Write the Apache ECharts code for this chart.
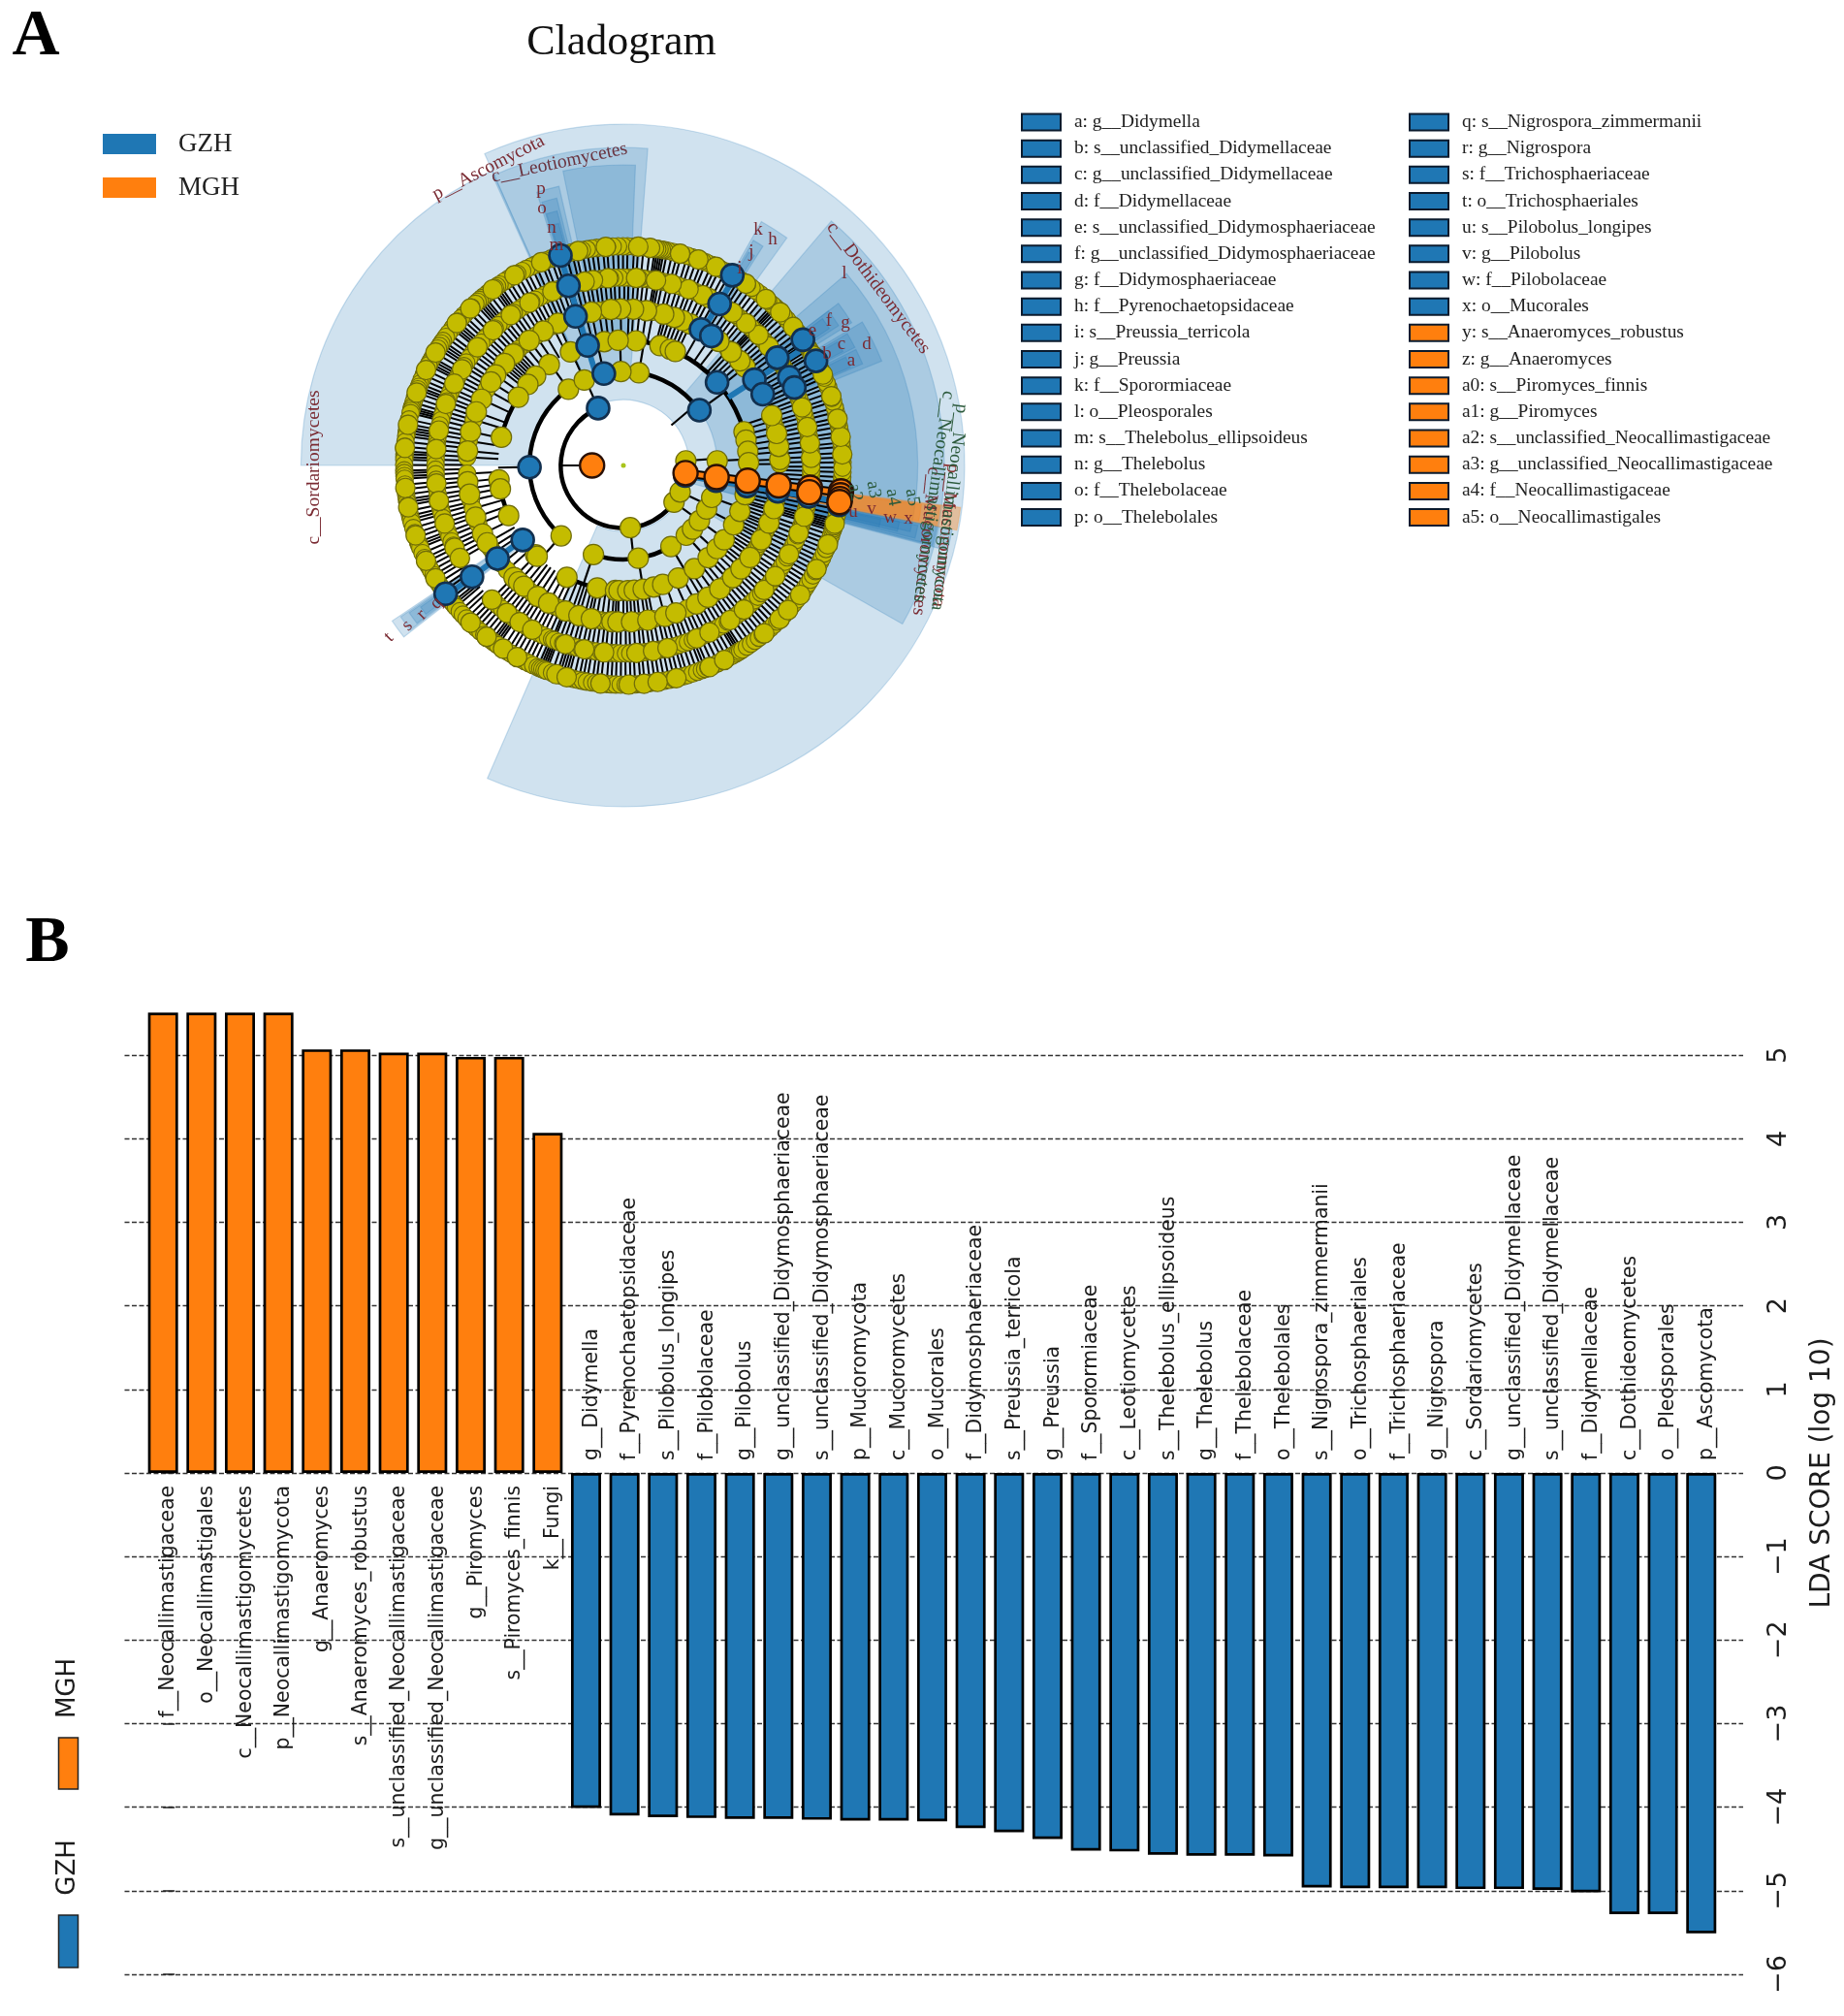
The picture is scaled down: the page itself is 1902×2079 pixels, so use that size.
<!DOCTYPE html>
<html><head><meta charset="utf-8">
<style>html,body{margin:0;padding:0;background:#fff}#c{width:1902px;height:2079px}</style>
<script src="https://cdn.jsdelivr.net/npm/echarts@6/dist/echarts.min.js"></script>
</head><body><div id="c"></div>
<script>
// ---------- panel B data ----------
const mghTaxa=["f__Neocallimastigaceae","o__Neocallimastigales","c__Neocallimastigomycetes","p__Neocallimastigomycota","g__Anaeromyces","s__Anaeromyces_robustus","s__unclassified_Neocallimastigaceae","g__unclassified_Neocallimastigaceae","g__Piromyces","s__Piromyces_finnis","k__Fungi"];
const mghScores=[5.51,5.51,5.51,5.51,5.07,5.07,5.03,5.03,4.98,4.98,4.07];
const gzhTaxa=["g__Didymella","f__Pyrenochaetopsidaceae","s__Pilobolus_longipes","f__Pilobolaceae","g__Pilobolus","g__unclassified_Didymosphaeriaceae","s__unclassified_Didymosphaeriaceae","p__Mucoromycota","c__Mucoromycetes","o__Mucorales","f__Didymosphaeriaceae","s__Preussia_terricola","g__Preussia","f__Sporormiaceae","c__Leotiomycetes","s__Thelebolus_ellipsoideus","g__Thelebolus","f__Thelebolaceae","o__Thelebolales","s__Nigrospora_zimmermanii","o__Trichosphaeriales","f__Trichosphaeriaceae","g__Nigrospora","c__Sordariomycetes","g__unclassified_Didymellaceae","s__unclassified_Didymellaceae","f__Didymellaceae","c__Dothideomycetes","o__Pleosporales","p__Ascomycota"];
const gzhScores=[-4.01,-4.10,-4.12,-4.13,-4.14,-4.14,-4.15,-4.16,-4.16,-4.17,-4.25,-4.30,-4.38,-4.52,-4.53,-4.57,-4.58,-4.58,-4.59,-4.96,-4.97,-4.97,-4.97,-4.98,-4.98,-4.99,-5.02,-5.28,-5.28,-5.51];
const yTicks=[-6,-5,-4,-3,-2,-1,0,1,2,3,4,5];
// ---------- panel A legend ----------
const legendCol1=["a: g__Didymella","b: s__unclassified_Didymellaceae","c: g__unclassified_Didymellaceae","d: f__Didymellaceae","e: s__unclassified_Didymosphaeriaceae","f: g__unclassified_Didymosphaeriaceae","g: f__Didymosphaeriaceae","h: f__Pyrenochaetopsidaceae","i: s__Preussia_terricola","j: g__Preussia","k: f__Sporormiaceae","l: o__Pleosporales","m: s__Thelebolus_ellipsoideus","n: g__Thelebolus","o: f__Thelebolaceae","p: o__Thelebolales"];
const legendCol2Blue=["q: s__Nigrospora_zimmermanii","r: g__Nigrospora","s: f__Trichosphaeriaceae","t: o__Trichosphaeriales","u: s__Pilobolus_longipes","v: g__Pilobolus","w: f__Pilobolaceae","x: o__Mucorales"];
const legendCol2Orange=["y: s__Anaeromyces_robustus","z: g__Anaeromyces","a0: s__Piromyces_finnis","a1: g__Piromyces","a2: s__unclassified_Neocallimastigaceae","a3: g__unclassified_Neocallimastigaceae","a4: f__Neocallimastigaceae","a5: o__Neocallimastigales"];
// ---------- cladogram data: angle in degrees per ring (ring 1 = kingdom ... ring 7 = species) ----------
const ring2Yellow=[-83.7,-36,-25,4.2];
const ring3Yellow=[125.8,114.6,228.5,-108.6,-80.9,-59.6,-48,-42.6,-36,-27.6,-19.9,2.8,80.5,91.5];
const ring4Yellow=[84.2,73,68,65.5,15.6,11.7,6.5,1.3,98.8,92.4,115,126.3,134.5,139.7,147,167,186.6,190.8,203.6,225.5,226.5,243.2,258,266.4,-92,-88,-85,-80.9,-76,-71.7,-64,-55.5,-47.4,-41.6,-36.4,-28.3,-21.5,-13.5];
const ring5Major=[2.2,7,11.8,18.6,39,41.9,46.5,52.4,64.6,67.8,71,75.1,81.5,86.3,91,94.6,101.8,114.7,120.8,127,134.6,139.4,144.7,147.8,155,160,167.5,174.7,186,190.6,199.3,205.9,209.6,225.7,228,230.5,236.8,241.5,248.3,253.5,258.2,265.8,268,-87,-81,-74.6,-70.4,-62.2,-57.3,-52,-45.7,-41.3,-36,-28.3,-21.6,-16];
const ring6Major=[2.3,6.8,11.8,18,39.3,44,49.2,54.5,63,65,69.7,75.1,80,86.1,94.7,99.3,101.9,112.2,120,126.8,134,141,149.2,154.2,160.9,169.3,175,185.5,190.9,198,206,209.5,225.6,231.7,236.5,241,252,258,264.1,-86,-80.9,-76.4,-67,-62.7,-55.4,-50.1,-41.5,-36.1,-28.2,-21.1,-15.8];
const ring7Major=[2.9,7.5,12.3,18.4,24.5,30.1,39.2,44.3,49.4,56,65,70,75,83,86.1,94.6,101.9,112,119.8,126.6,134.3,139.5,149,154.2,160.6,169.3,175.4,185.9,191,198.6,205.8,211,225.8,231.4,236.7,241,252.2,255,264,-88.6,-84.6,-81,-76,-66.8,-62.6,-50,-44.5,-41.3,-36.2,-28.2,-21.1,-15.4];
const blueNodes={2:[113.8,-9.3],3:[36,102,181,-9.3],4:[41.6,106.6,216.5,-9.4],5:[60.3,55.8,33.2,27.1,107.8,216.5,-9.5],6:[59.2,35,28,24.5,107,216.3,-9.5],7:[60.2,35,28.5,106.7,215.8,-10.4]};
const orangeNodes={1:[180],2:[-7],3:[-7.1],4:[-7],5:[-7.3],6:[-6.8,-8.2],7:[-6.8,-7.8,-8.8,-9.6]};
const spokes45=[0.5,2.2,5,7,9.4,11.8,14.2,16.6,18.6,39,41,43,44.6,46.5,48,52.4,55.8,60.3,64.6,66.2,67.8,69.4,71,72.6,74,75.1,79,81.5,84,86.3,88,91,94.6,96.8,99,101.8,104,108,114.7,117,120.8,124,127,129.5,132,133.4,134.6,135.8,137,138.2,139.4,140.6,142,144.7,147.8,151,155,160,163,167.5,171,174.7,177,183,186,188.5,190.6,193,196,199.3,202,205.9,209.6,212,214,216.5,219,222,225.7,228,230.5,232.5,234.5,236.8,239,241.5,244,246,248.3,250.5,252,253.5,255.5,257,258.2,260,262,264,265.8,267,268,270,271.5,273,274.5,276,278,279.5,281,285.4,289.6,294,297.8,300.6,302.7,305.5,308,310,312.5,314.3,316.5,318.7,320.5,322,324,325.5,327,328.5,330,331.7,333,334.5,336,337.3,338.4,340,341.5,343,344,345.5,347,349,350.5];
const spokes56=[1.1,2.6,4.3,5.7,7.4,8.9,10.5,12,13.4,15,16.3,18,19.5,20.8,22.4,23.8,25.2,26.9,28.1,29.7,31.2,32.5,33.4,34.1,35.9,37.4,38.9,40.3,41.8,43.2,44.9,45.8,46.4,47.1,48.7,50.3,51.6,53.3,54.7,56.4,58,59.5,61,62.7,64.1,65.6,67.3,68.8,70.1,71.8,73.2,74.9,76.2,77.9,79.1,79.9,80.6,82.4,83.9,85.3,86.8,88.4,89.7,91.3,92.8,94.1,95.7,97.2,98.6,100.2,101.5,103.1,104.7,106.2,107.6,109,110.7,112.1,113.6,115,116.6,118.1,119.4,121,122.5,124.2,125.7,127.1,128.8,130.1,131.7,133.2,134.6,136.3,137.6,139.2,140.7,142.2,143.5,145.1,146.8,148.1,149.7,151.2,152.7,154.1,155.8,157.2,158.8,160.1,161.7,163.2,164.6,166.1,167.7,169.2,170.6,172.3,173.7,175.3,176.8,178.2,179.8,181.3,182.7,184.4,185.8,187.2,188.9,190.3,191.8,193.4,194.7,196.3,197.8,199.1,200.8,202.2,203.9,205.3,206.7,208.4,209.9,225.4,226.9,228.3,229.8,231.4,232.8,234.3,235.9,237.2,238.7,240.3,241.8,243.2,244.7,246.3,247.7,248.4,249.9,251.3,252.8,254.4,255.7,257.3,258.7,260.2,261.7,263.3,264.6,266.2,267.7,269.1,270.8,272.1,273.7,275.3,276.6,278.2,279.6,281.1,282.8,284.2,285.7,287.2,288.8,290.1,291.7,293.2,294.6,296.2,297.7,299.1,300.7,302.2,303.8,305.1,306.7,308.2,309.6,311.2,312.8,314.1,315.7,317.2,318.6,320.1,321.8,323.2,324.7,326.1,327.8,329.2,330.7,332.1,333.7,335.2,336.6,338.2,339.7,341.1,342.8,343.6,344.4,345.2,346.7,348.2,349.7,351.2,355.4,356.9,358.3,359.6];
const spokes67=[0.8,2.1,3.3,4.9,6,7.6,8.7,10.2,11.5,12.6,14.1,15.3,16.9,18,19.4,20.9,22,23.6,24.7,26.1,27.5,28.6,30.2,31.1,32,32.6,33.2,33.9,34.6,36,37.4,38.8,40.1,41.6,43,44.3,45.2,45.9,46.5,47.2,48.7,50.1,51.4,52.9,54.2,55.7,57,58.1,59.8,61,62.3,63.9,65.1,66.3,67.9,69,70.4,71.8,73,74.6,75.7,77,78.4,79.3,79.9,80.5,81.1,81.7,83,84.7,86.1,87.2,88.9,90.1,91.4,92.8,94.3,95.4,97,98.3,99.6,100.9,102.5,103.6,105.2,106.7,108.1,109.3,110.9,112,113.6,114.8,116.3,117.5,119,120.2,121.7,122.9,124.4,125.2,125.9,126.7,128.1,129.4,130.2,131,131.7,132.5,133.9,135.2,136.7,137.8,139,139.8,140.6,141.3,142.9,144.1,145.4,146.2,147,147.8,149.1,150.5,151.3,152.1,152.8,154.2,155.6,156.9,158.1,159,159.7,160.6,162,163.3,164.4,165,165.6,166.2,167.9,169.1,170,170.7,171.5,172.3,173.8,175.1,176.3,177,177.8,178.5,179.9,181.3,182,182.8,183.5,185,186.2,187.6,188.9,189.7,190.5,192,193.3,194.2,195.1,196.6,198,199.2,200.5,201.3,202.1,203.6,205,206.1,207.4,208.7,210,211.1,212.5,213.9,215,216.3,217.6,218.7,219.4,220.2,221.7,222.9,224.3,225.6,226.8,228,229.3,230.6,231.9,233,233.7,234.4,235.1,236.6,238,239.2,240.5,241.9,243.2,244.4,245.7,247,247.7,248.3,248.9,249.5,251,252.3,253.1,253.9,254.7,255.5,256.9,258.2,259.3,260.4,261.8,262.9,264.1,265.6,266.8,268,269.3,270.6,271.9,273.1,274.5,275.6,277,278.3,279.5,280.8,282.1,283.4,284.6,285.9,287,288.4,289.7,291,291.9,292.8,294.2,295.6,297,298.3,299.6,300.9,301.6,302.2,302.9,304.3,305.6,306.9,308.2,309.5,310.8,312,313.3,314.6,316,317.2,318.5,319.7,321,322.3,323.5,324.9,326.1,327.4,328.6,329.9,331.2,332.5,333.8,335,336.3,337.6,338.9,340.1,341.4,342.6,343.3,343.9,344.5,345.1,345.7,347,348.4,349.7,351,352.3,355.6,356.9,358.2,359.4];
// clade shading: ring from, ring to, angle from, angle to
const blueWedges=[[2.1,10.9,-113.5,114],[3,10.3,114,180],[3,10.15,85.6,114.3],[4,9.6,87.7,101.6],[4,9.15,103,107.6],[5,8.8,104,107.2],[6,8.4,104.6,107],[7,8,105,106.8],
 [3,10.25,-29.6,49.6],[4,9.4,-13,40.7],[5,8.9,22,31],[5,8.6,32,37],[6,8.3,23,26.5],[6,8.3,27,30.5],[6,8.2,33,37],[7,7.9,23.4,26],[7,7.9,27.4,30],[7,7.9,33.6,36.4],
 [5,8.95,54.3,60.5],[6,8.3,57.5,60],[7,7.9,58,59.6],[2.1,10.7,-14.7,-11],[3,10.2,-14.5,-11],[4,10,-14.4,-11.2],[5,9.6,-14,-11.5],[6,9,-13.5,-11.5],[7,8.4,-13.5,-11.8],
 [4,8.9,213.9,218],[5,8.6,214.2,217.7],[6,8.3,214.5,217.4],[7,7.9,214.9,217]];
const orangeWedges=[[2.1,10.85,-11,-7.1],[3,10.2,-10.8,-7.3],[4,9.6,-10.6,-7.5]];
const thickArcs=[[2,113.8,353],[3,36,228.5],[3,251.4,312],[4,1.3,84],[4,147,167],[4,186.6,204],[4,243.2,258]];
const sparseSpokes=[[1,2,180],[2,3,113.8],[2,3,-83.7],[2,3,-36],[2,3,-25],[2,3,4.2],[2,3,40],[3,4,36],[3,4,125.8],[3,4,114.6],[3,4,228.5],[3,4,102],[3,4,181],[3,4,-108.6],[3,4,-80.9],[3,4,-59.6],[3,4,-48],[3,4,-42.6],[3,4,-36],[3,4,-27.6],[3,4,-19.9],[3,4,2.8],[3,4,80.5],[3,4,91.5]];
const blueLinks=[[4,7,216.3],[3,7,106.8],[2,7,-9.5],[5,7,59.5],[4,7,33]];
const orangeLink=[[2,7,-7.1]];
const cladeLabels=["p__Ascomycota","c__Leotiomycetes","c__Sordariomycetes","c__Dothideomycetes","c__Mucoromycetes","p__Mucoromycota","c__Neocallimastigomycetes","p__Neocallimastigomycota"];
const tipLetters=["p","o","n","m","k","h","j","i","l","g","f","d","c","a","b","e","x","w","v","u","t","s","r","q"];
const tipLettersOrange=["a5","a4","a3","a2"];

// ---------- fixed layout of the annotations ----------
const cladeLabelPos=[[504,173,27,'#7a2b33'],[577,168,12,'#6a3440'],[324,482,90,'#7a2b33'],[906,297,-53,'#7a2b33'],[955,558,-96,'#7a2b33'],[975,552,-96,'#8a3030'],[963,512,-98,'#2c5a3c'],[979,523,-97,'#2c5a3c']];
const tipPos=[[558,195],[559,215],[569,235],[574,253],[782,237],[797,247],[775,260],[763,277],[871,282],[872,333],[855,331],[894,355],[868,355],[878,372],[853,365],[838,341],[937,535],[918,534],[899,525],[880,528],[401,657],[420,645],[435,634],[450,622]];
const tipPosOrange=[[941,513],[921,513],[901,505],[882,508]];

const BLUE='#1f77b4',ORANGE='#ff7f0e',YEL='#c4bc00',YELB='#6f6c08',SERIF='"Liberation Serif"',SANS='"DejaVu Sans"';
const norm=a=>a<0?a+360:a;
const pts=(ring,list)=>list.map(a=>[ring,norm(a)]);
const sp=(r0,r1,list)=>list.map(a=>[r0,r1,a]);

function spokeSeries(data,color,width,z){return {type:'custom',coordinateSystem:'polar',polarIndex:0,silent:true,z,data,
 renderItem(p,api){const a=api.coord([api.value(0),norm(api.value(2))]),b=api.coord([api.value(1),norm(api.value(2))]);
  return {type:'line',shape:{x1:a[0],y1:a[1],x2:b[0],y2:b[1]},style:{stroke:color,lineWidth:width}};}};}
function wedgeSeries(data,fill,edge,z){return {type:'custom',coordinateSystem:'polar',polarIndex:0,silent:true,z,data,
 renderItem(p,api){const cx=p.coordSys.cx,cy=p.coordSys.cy,u=api.coord([1,0])[0]-cx;
  return {type:'sector',shape:{cx,cy,r0:api.value(0)*u,r:api.value(1)*u,startAngle:-api.value(3)*Math.PI/180,endAngle:-api.value(2)*Math.PI/180,clockwise:true},style:{fill,stroke:edge,lineWidth:1.2}};}};}
function arcSeries(data,z){return {type:'custom',coordinateSystem:'polar',polarIndex:0,silent:true,z,data,
 renderItem(p,api){const cx=p.coordSys.cx,cy=p.coordSys.cy,u=api.coord([1,0])[0]-cx;
  return {type:'arc',shape:{cx,cy,r:api.value(0)*u,startAngle:-api.value(2)*Math.PI/180,endAngle:-api.value(1)*Math.PI/180,clockwise:true},style:{stroke:'#000',lineWidth:4.5,fill:null}};}};}
function nodes(data,size,color,border,bw,z){return {type:'scatter',coordinateSystem:'polar',polarIndex:0,silent:true,z,data,symbolSize:size,animation:false,itemStyle:{color,borderColor:border,borderWidth:bw,opacity:1}};}

const taxa=mghTaxa.concat(gzhTaxa);
const scores=mghScores.concat(gzhScores);
const emptyLegendSeries=(names,color)=>names.map(name=>({type:'scatter',name,data:[],xAxisIndex:0,yAxisIndex:0,itemStyle:{color,opacity:1,borderColor:'#0b1b2e',borderWidth:2.6}}));
const barCommon={type:'bar',barWidth:31,barGap:'-100%',z:2,silent:true};

const series=[
 wedgeSeries(blueWedges,'rgba(31,119,180,0.21)','rgba(31,119,180,0.22)',1),
 wedgeSeries(orangeWedges,'rgba(255,127,14,0.36)','rgba(255,127,14,0.25)',1),
 arcSeries(thickArcs,3),
 spokeSeries(sparseSpokes,'#000',2.2,2),
 spokeSeries(sp(4,5,spokes45),'#000',2,2),
 spokeSeries(sp(5,6,spokes56),'#000',2,2),
 spokeSeries(sp(6,7,spokes67),'#000',2,2),
 spokeSeries(blueLinks,BLUE,6,3),
 spokeSeries(orangeLink,'#000',9,3),
 spokeSeries(orangeLink,ORANGE,5,3),
 nodes(pts(5,spokes45),18,YEL,YELB,1.1,4),
 nodes(pts(6,spokes56),18,YEL,YELB,1.1,4),
 nodes(pts(7,spokes67),18,YEL,YELB,1.1,4),
 nodes(pts(2,ring2Yellow),21,YEL,YELB,1.2,5),
 nodes(pts(3,ring3Yellow),21,YEL,YELB,1.2,5),
 nodes(pts(4,ring4Yellow),21,YEL,YELB,1.2,5),
 nodes(pts(5,ring5Major),21,YEL,YELB,1.2,5),
 nodes(pts(6,ring6Major),20,YEL,YELB,1.2,5),
 nodes(pts(7,ring7Major),20,YEL,YELB,1.2,5),
 ...[2,3,4,5,6,7].map(k=>nodes(pts(k,blueNodes[k]),23,BLUE,'#12304f',2.6,6)),
 ...[1,2,3,4,5,6,7].map(k=>nodes(pts(k,orangeNodes[k]),25,ORANGE,'#2a1005',2.4,7)),
 nodes([[0,0]],5,'#a9c41c','#a9c41c',0,7),
 {...barCommon,name:'GZH',xAxisIndex:0,yAxisIndex:0,data:gzhScores.map((v,i)=>[i+mghScores.length,v]),itemStyle:{color:BLUE,borderColor:'#000',borderWidth:2.7}},
 {...barCommon,name:'MGH',xAxisIndex:0,yAxisIndex:0,data:mghScores.map((v,i)=>[i,v]),itemStyle:{color:ORANGE,borderColor:'#000',borderWidth:2.7}},
 {type:'custom',coordinateSystem:'cartesian2d',xAxisIndex:0,yAxisIndex:0,silent:true,z:5,data:scores.map((v,i)=>[i,v]),
  renderItem(p,api){const up=api.value(1)<0,c=api.coord([api.value(0),0]);
   return {type:'text',x:c[0]+6,y:c[1]+(up?-13:13),rotation:Math.PI/2,style:{text:taxa[api.value(0)],fill:'#1c1c1c',font:'20.4px '+SANS,align:up?'left':'right',verticalAlign:'middle'}};}},
 ...emptyLegendSeries(legendCol1.concat(legendCol2Blue),BLUE),
 ...emptyLegendSeries(legendCol2Orange,ORANGE)
];

const graphicText=(text,x,y,rot,font,fill,align)=>({type:'text',x,y,rotation:rot*Math.PI/180,z:100,silent:true,style:{text,font,fill,align:align||'center',verticalAlign:'middle'}});
const graphics=[
 graphicText('A',37,38,0,'bold 68px '+SERIF,'#000'),
 graphicText('B',49,973,0,'bold 68px '+SERIF,'#000'),
 graphicText('Cladogram',641,44,0,'44px '+SERIF,'#111'),
 {type:'rect',shape:{x:60.5,y:1792,width:20,height:53},z:100,style:{fill:ORANGE,stroke:'#222',lineWidth:1.5}},
 {type:'rect',shape:{x:60.5,y:1975,width:20,height:54},z:100,style:{fill:BLUE,stroke:'#222',lineWidth:1.5}},
 graphicText('MGH',70,1741,90,'26px '+SANS,'#1c1c1c'),
 graphicText('GZH',70,1926,90,'26px '+SANS,'#1c1c1c'),
 ...cladeLabels.map((t,i)=>graphicText(t,cladeLabelPos[i][0],cladeLabelPos[i][1],cladeLabelPos[i][2],'19.5px '+SERIF,cladeLabelPos[i][3])),
 ...tipLetters.map((t,i)=>graphicText(t,tipPos[i][0],tipPos[i][1],i>19?45:0,'19px '+SERIF,'#7a2b33')),
 ...tipLettersOrange.map((t,i)=>graphicText(t,tipPosOrange[i][0],tipPosOrange[i][1],-80,'19px '+SERIF,'#2c5a3c'))
];
const legendBase={orient:'vertical',icon:'rect',itemWidth:40,itemHeight:17,selectedMode:false,padding:0,
 textStyle:{fontFamily:SERIF,fontSize:19.4,color:'#222',padding:[0,0,0,9],lineHeight:17},itemGap:8.17};

const option={animation:false,backgroundColor:'#fff',
 polar:{center:[643,480],radius:352},
 radiusAxis:{polarIndex:0,type:'value',min:0,max:10.9,show:false},
 angleAxis:{polarIndex:0,type:'value',min:0,max:360,startAngle:0,clockwise:false,show:false},
 grid:{left:128.5,right:104,top:1002,bottom:43,containLabel:false},
 xAxis:{type:'value',min:-1,max:41.09,show:false},
 yAxis:{type:'value',min:-6,max:6,interval:1,position:'right',
  axisLine:{show:false},
  axisTick:{show:true,length:12,customValues:yTicks,lineStyle:{color:'#222',width:1.5}},
  axisLabel:{rotate:90,margin:23,customValues:yTicks,color:'#1c1c1c',fontFamily:SANS,fontSize:27,formatter:v=>String(v).replace('-','\u2212')},
  splitLine:{show:true,showMinLine:true,showMaxLine:true,lineStyle:{type:[5,2.5],color:'#333',width:1.3}},
  name:'LDA SCORE (log 10)',nameLocation:'middle',nameRotate:90,nameGap:68,nameTextStyle:{fontFamily:SANS,fontSize:28,color:'#1c1c1c'}},
 legend:[
  {orient:'vertical',icon:'rect',selectedMode:false,padding:0,data:['GZH','MGH'],left:106,top:135,itemWidth:55,itemHeight:21,itemGap:18,itemStyle:{borderWidth:0},textStyle:{fontFamily:SERIF,fontSize:27,color:'#222',padding:[0,0,0,18]}},
  {...legendBase,left:1053,top:116.5,data:legendCol1},
  {...legendBase,left:1453,top:116.5,data:legendCol2Blue.concat(legendCol2Orange)}
 ],
 graphic:{elements:graphics},
 series
};
echarts.init(document.getElementById('c'),null,{renderer:'canvas'}).setOption(option);
</script></body></html>
